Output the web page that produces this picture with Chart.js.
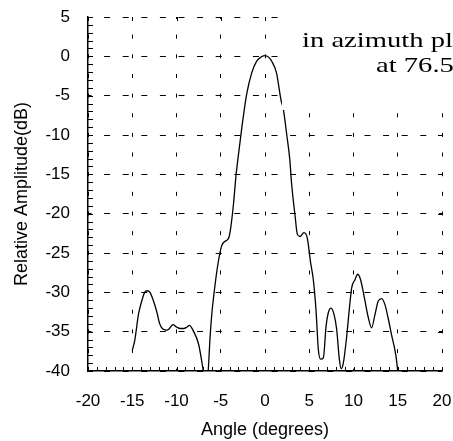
<!DOCTYPE html>
<html>
<head>
<meta charset="utf-8">
<script src="https://cdn.jsdelivr.net/npm/chart.js@4/dist/chart.umd.min.js"></script>
<style>
  html,body{margin:0;padding:0;background:#fff;}
  #wrap{width:453px;height:441px;position:relative;}
</style>
</head>
<body>
<div id="wrap"><canvas id="pattern"></canvas></div>
<script>
// radiation pattern (angle in degrees, relative amplitude in dB)
const angles=[-15.0,-14.7,-14.3,-13.9,-13.6,-13.3,-13.0,-12.6,-12.2,-11.9,-11.5,-11.1,-10.8,-10.4,-10.0,-9.6,-9.2,-8.8,-8.55,-8.1,-7.5,-7.0,-6.7,-6.45,-6.2,-6.0,-5.84,-5.4,-4.9,-4.5,-4.1,-3.9,-3.58,-3.28,-3.0,-2.6,-2.07,-1.5,-0.94,-0.4,0,0.4,0.75,1.3,1.8,2.07,2.45,2.8,3.0,3.4,3.65,3.95,4.4,4.78,5.15,5.46,5.76,6.03,6.29,6.6,6.9,7.15,7.46,7.8,8.1,8.4,8.6,8.85,9.23,9.6,9.8,10.17,10.47,10.8,11.2,11.67,12.05,12.43,12.8,13.2,13.56,13.9,14.3,14.8,15.0];
const amplitude=[-37.4,-36.0,-32.8,-31.0,-30.0,-29.8,-30.0,-31.1,-32.6,-34.0,-34.7,-34.8,-34.6,-34.1,-34.4,-34.6,-34.6,-34.4,-34.2,-34.9,-36.6,-39.8,-42.0,-40.5,-35.6,-32.6,-30.9,-27.0,-24.1,-23.5,-23.1,-22.0,-19.0,-15.2,-12.5,-8.9,-4.8,-2.1,-0.6,-0.05,0.1,-0.1,-0.6,-2.1,-5.5,-6.7,-9.9,-13.1,-16.1,-20.3,-22.6,-22.9,-22.4,-23.1,-26.2,-28.4,-32.2,-37.3,-38.5,-38.3,-34.3,-32.6,-32.0,-32.8,-34.7,-38.5,-39.7,-39.0,-35.6,-31.3,-29.4,-28.4,-27.7,-28.4,-30.5,-33.2,-34.5,-32.8,-31.1,-30.8,-31.6,-33.2,-35.4,-38.1,-40.0];
const xTicks=[-20,-15,-10,-5,0,5,10,15,20];
const yTicks=[5,0,-5,-10,-15,-20,-25,-30,-35,-40];
const noteLines=['in azimuth pl','at 76.5'];

const sans='"Liberation Sans", Arial, sans-serif';

// small inward ticks, like the original axes
const innerTicks={
  id:'innerTicks',
  afterDatasetsDraw(chart){
    const {ctx,chartArea:a,scales:{x,y}}=chart;
    ctx.save();
    ctx.strokeStyle='#000';ctx.lineWidth=1;
    ctx.beginPath();
    for(let v=-20;v<=20;v++){const p=Math.round(x.getPixelForValue(v))+0.5;ctx.moveTo(p,a.bottom);ctx.lineTo(p,a.bottom-4);}
    for(let v=-40;v<=5;v++){const p=Math.round(y.getPixelForValue(v))+0.5;ctx.moveTo(a.left,p);ctx.lineTo(a.left+5,p);}
    xTicks.forEach(v=>{const p=Math.round(x.getPixelForValue(v))+0.5;ctx.moveTo(p,a.top);ctx.lineTo(p,a.top+4);});
    yTicks.forEach(v=>{const p=Math.round(y.getPixelForValue(v))+0.5;ctx.moveTo(a.right,p);ctx.lineTo(a.right-4,p);});
    ctx.stroke();
    ctx.restore();
  }
};

// the pasted caption box that hides the top right corner
const noteBox={
  id:'noteBox',
  afterDraw(chart){
    const {ctx}=chart;
    ctx.save();
    ctx.fillStyle='#fff';
    ctx.fillRect(282,0,chart.width-282,110);
    ctx.fillStyle='#000';
    ctx.font='22px "Liberation Serif", "Times New Roman", serif';
    ctx.textBaseline='alphabetic';
    [[302,46.5],[376,71.5]].forEach(([tx,ty],i)=>{
      ctx.save();ctx.translate(tx,ty);ctx.scale(1.3,1);ctx.fillText(noteLines[i],0,0);ctx.restore();
    });
    ctx.restore();
  }
};

new Chart(document.getElementById('pattern'),{
  type:'line',
  data:{datasets:[{
    data:angles.map((a,i)=>({x:a,y:amplitude[i]})),
    borderColor:'#000',borderWidth:1.3,pointRadius:0,fill:false,
    cubicInterpolationMode:'monotone'
  }]},
  options:{
    responsive:true,maintainAspectRatio:false,animation:false,
    layout:{padding:{top:17,right:11,left:0,bottom:0}},
    plugins:{legend:{display:false},tooltip:{enabled:false}},
    scales:{
      x:{type:'linear',min:-20,max:20,
        afterBuildTicks:s=>{s.ticks=xTicks.map(v=>({value:v}));},
        afterFit:s=>{s.height=70;s.paddingLeft=0;s.paddingRight=0;},
        grid:{color:'#000',lineWidth:1,drawTicks:false},
        border:{display:true,color:'#000',width:1.5,dash:[4,15.65],dashOffset:2},
        ticks:{color:'#000',padding:20,font:{family:sans,size:17},maxRotation:0,autoSkip:false},
        title:{display:true,text:'Angle (degrees)',color:'#000',font:{family:sans,size:18},padding:{top:0,bottom:0}}
      },
      y:{min:-40,max:5,
        afterBuildTicks:s=>{s.ticks=yTicks.map(v=>({value:v}));},
        afterFit:s=>{s.width=88;s.paddingTop=0;s.paddingBottom=0;},
        grid:{color:'#000',lineWidth:1,drawTicks:false},
        border:{display:true,color:'#000',width:1.5,dash:[6,12.6],dashOffset:3},
        ticks:{color:'#000',padding:18,font:{family:sans,size:17},autoSkip:false},
        title:{display:true,text:'Relative Amplitude(dB)',color:'#000',font:{family:sans,size:18},padding:{top:11,bottom:0}}
      }
    }
  },
  plugins:[innerTicks,noteBox]
});
</script>
</body>
</html>
